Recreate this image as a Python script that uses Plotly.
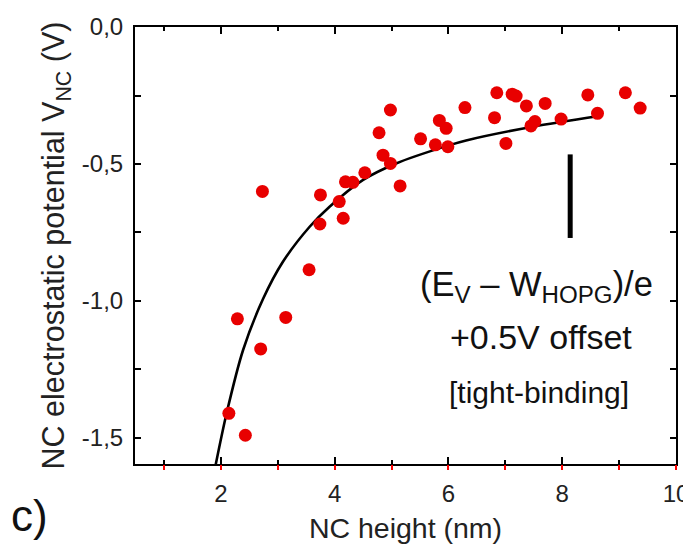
import plotly.graph_objects as go

# measured NC data (height nm, potential V)
nc_height = [2.14, 2.29, 2.43, 2.70, 2.73, 3.14, 3.55, 3.74, 3.75, 4.08,
             4.15, 4.19, 4.32, 4.53, 4.78, 4.85, 4.98, 4.98, 5.15, 5.51,
             5.77, 5.84, 5.96, 5.99, 6.29, 6.81, 6.85, 7.01, 7.12, 7.19,
             7.37, 7.45, 7.52, 7.70, 7.98, 8.45, 8.62, 9.11, 9.37]
nc_potential = [-1.41, -1.065, -1.49, -1.175, -0.60, -1.06, -0.886, -0.719, -0.613, -0.637,
                -0.698, -0.565, -0.567, -0.532, -0.386, -0.468, -0.303, -0.498, -0.580, -0.408,
                -0.430, -0.341, -0.370, -0.437, -0.294, -0.331, -0.240, -0.425, -0.245, -0.252,
                -0.288, -0.361, -0.345, -0.279, -0.336, -0.248, -0.315, -0.240, -0.296]

# tight-binding curve
tb_height = [1.91, 2.10, 2.39, 2.74, 3.09, 3.56, 3.91, 4.50, 5.08, 5.99, 6.31, 7.48, 8.65]
tb_potential = [-1.596, -1.41, -1.179, -0.993, -0.857, -0.729, -0.656, -0.558,
                -0.498, -0.433, -0.414, -0.364, -0.325]

# offset bar
bar_x = [8.14, 8.14]
bar_y = [-0.465, -0.77]

x_range = [0.49, 10]
y_range = [-1.595, 0]
y_tickvals = [0, -0.5, -1.0, -1.5]
y_ticktext = ["0,0", "-0,5", "-1,0", "-1,5"]
x_tickvals = [2, 4, 6, 8, 10]
x_ticktext = ["2", "4", "6", "8", "10"]
x_all_ticks = [1, 2, 3, 4, 5, 6, 7, 8, 9, 10]

FONT = "Liberation Sans, Arial, sans-serif"

# the page body adds an 8px margin, so the figure is slightly smaller
OFF = 8
W, H = 683, 540
ML, MR, MT, MB = 127, 15, 19, 84
PW, PH = W - ML - MR, H - MT - MB


def px2paper(sx, sy):
    # screen pixel -> paper coords
    fx, fy = sx - OFF, sy - OFF
    return (fx - ML) / PW, 1 - (fy - MT) / PH


fig = go.Figure()
fig.add_trace(go.Scatter(x=tb_height, y=tb_potential, mode="lines",
                         line=dict(color="black", width=2.6, shape="spline", smoothing=0.8),
                         showlegend=False, hoverinfo="skip"))
fig.add_trace(go.Scatter(x=nc_height, y=nc_potential, mode="markers",
                         marker=dict(color="#e80000", size=13, line=dict(width=0)),
                         showlegend=False))
fig.add_trace(go.Scatter(x=bar_x, y=bar_y, mode="lines",
                         line=dict(color="black", width=5),
                         showlegend=False, hoverinfo="skip"))
# invisible trace for the red outer tick axis
fig.add_trace(go.Scatter(x=[None], y=[None], xaxis="x2", showlegend=False))

annots = []
for txt, (sx, sy), size in [
    ("(E<sub>V</sub> \u2013 W<sub>HOPG</sub>)/e", (536.5, 286), 34.5),
    ("+0.5V offset", (541, 337), 34),
    ("[tight-binding]", (539, 392), 30),
    ("c)", (29, 515), 44),
]:
    ax, ay = px2paper(sx, sy)
    annots.append(dict(text=txt, x=ax, y=ay, xref="paper", yref="paper",
                       xanchor="center", yanchor="middle", showarrow=False,
                       font=dict(size=size, family=FONT, color="#111")))

fig.update_layout(
    width=W, height=H,
    margin=dict(l=ML, r=MR, t=MT, b=MB),
    paper_bgcolor="white", plot_bgcolor="white",
    font=dict(family=FONT, color="#111111"),
    xaxis=dict(range=x_range, showgrid=False, zeroline=False, automargin=False,
               showline=True, linecolor="black", linewidth=2, mirror="ticks",
               ticks="inside", ticklen=7, tickwidth=1.5, tickcolor="black",
               tickvals=x_tickvals, ticktext=x_ticktext,
               tickfont=dict(size=24, family=FONT, color="#222"),
               ticklabelstandoff=7,
               minor=dict(tickvals=[1, 3, 5, 7, 9], ticks="inside", ticklen=4,
                          tickwidth=1.5, tickcolor="black"),
               title=dict(text="NC height (nm)", font=dict(size=28.5, family=FONT, color="#222"),
                          standoff=12)),
    xaxis2=dict(range=x_range, overlaying="x", anchor="y", side="bottom", automargin=False,
                showgrid=False, zeroline=False, showline=False,
                ticks="outside", ticklen=5, tickwidth=1.5, tickcolor="#ff0000",
                tickvals=x_all_ticks, showticklabels=False),
    yaxis=dict(range=y_range, showgrid=False, zeroline=False, automargin=False,
               showline=True, linecolor="black", linewidth=2, mirror="ticks",
               ticks="inside", ticklen=6, tickwidth=1.5, tickcolor="black",
               tickvals=y_tickvals, ticktext=y_ticktext,
               tickfont=dict(size=24, family=FONT, color="#222"),
               ticklabelstandoff=5,
               minor=dict(tickvals=[-0.25, -0.75, -1.25], ticks="inside", ticklen=6,
                          tickwidth=1.5, tickcolor="black"),
               title=dict(text="NC electrostatic potential V<sub>NC</sub> (V)",
                          font=dict(size=30.5, family=FONT, color="#222"), standoff=8)),
    annotations=annots,
)

fig.write_html("out.html")
